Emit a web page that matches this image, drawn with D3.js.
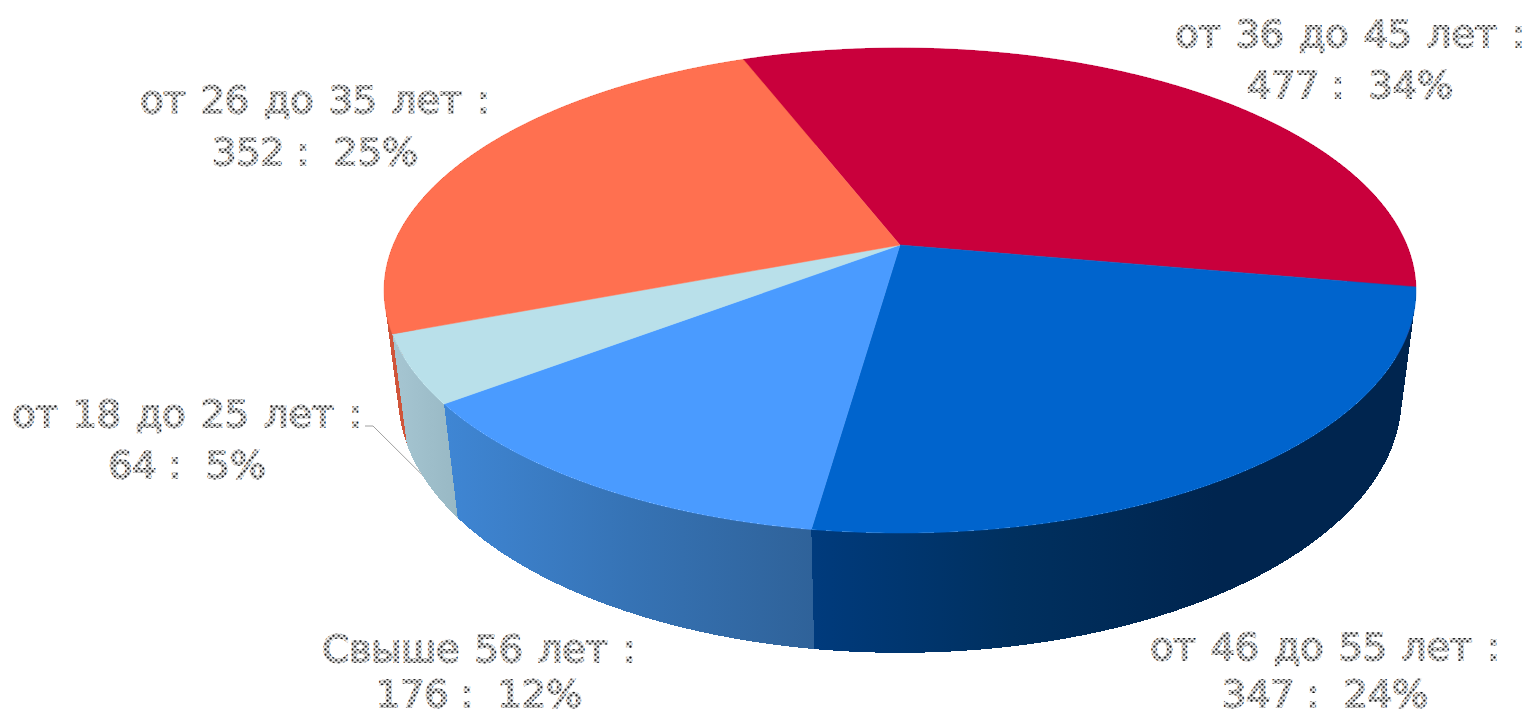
<!DOCTYPE html>
<html>
<head>
<meta charset="utf-8">
<script src="https://cdn.jsdelivr.net/npm/d3@7"></script>
<style>
html, body { margin: 0; padding: 0; background: #fff; overflow: hidden; }
text { font-family: "DejaVu Sans", sans-serif; font-size: 38px; text-anchor: middle; }
</style>
</head>
<body>
<svg id="chart" width="1530" height="717"></svg>
<script>
// values
var categories = ['от 36 до 45 лет', 'от 46 до 55 лет', 'Свыше 56 лет', 'от 18 до 25 лет', 'от 26 до 35 лет'];
var values = [477, 347, 176, 64, 352];
var percents = [34, 24, 12, 5, 25];

// colours of the top face
var topColors = ['#c9003c', '#0064cd', '#4a9bff', '#b9e0ea', '#ff7050'];
// wall shading, left to right
var wallColors = [
	['#a00030', '#a00030'],
	['#003b7d', '#00305f', '#00254f', '#00254f'],
	['#3f86d4', '#3673b5', '#2f6299'],
	['#a6c6d2', '#98b8c4'],
	['#d0553a', '#d0553a']
];

// label layout: centre x, first baseline, second baseline
var labelX = [1350, 1325, 479, 187, 315];
var labelY1 = [47, 660, 662, 427, 113];
var labelY2 = [98, 707, 707, 478, 165];

var svg = d3.select('#chart');
var defs = svg.append('defs');

// perspective projection of a flat cylinder
var apexX = 900, apexY = 245;
var rx = 506.8, ry = 234, persp = 0.1876;
var depth = 108.5, depthPersp = 0.0274;

function project(angle, z) {
	var u = Math.sin(angle), v = -Math.cos(angle);
	var w = 1 - persp * v + depthPersp * z;
	return [apexX + rx * u / w, apexY + (ry * v + depth * z) / w];
}

var startAngle = -21.3 * Math.PI / 180;
var pie = d3.pie().sort(null).startAngle(startAngle).endAngle(startAngle + 2 * Math.PI);
var slices = pie(values);

function arcPoints(s, z) {
	var n = Math.ceil((s.endAngle - s.startAngle) / 0.01);
	return d3.range(n + 1).map(function (i) {
		return project(s.startAngle + (s.endAngle - s.startAngle) * i / n, z);
	});
}

var line = d3.line();

// wall as a run of small quads, all wound the same way so the fill has no holes
function wallPath(s) {
	var top = arcPoints(s, 0), bottom = arcPoints(s, 1);
	return d3.range(top.length - 1).map(function (k) {
		var q = [top[k], top[k + 1], bottom[k + 1], bottom[k]];
		if (d3.polygonArea(q) < 0) q.reverse();
		return line(q) + 'Z';
	}).join('');
}

slices.forEach(function (s, i) {
	var top = arcPoints(s, 0), bottom = arcPoints(s, 1);
	var xs = top.concat(bottom).map(function (p) { return p[0]; });
	var ext = d3.extent(xs);
	var g = defs.append('linearGradient')
		.attr('id', 'wall' + i)
		.attr('gradientUnits', 'userSpaceOnUse')
		.attr('x1', ext[0]).attr('x2', ext[1]).attr('y1', 0).attr('y2', 0);
	wallColors[i].forEach(function (c, j) {
		g.append('stop').attr('offset', j / (wallColors[i].length - 1)).attr('stop-color', c);
	});
});

// walls first, back ones before front ones
var wallOrder = [0, 4, 1, 3, 2];
svg.append('g').selectAll('path')
	.data(wallOrder)
	.enter().append('path')
	.attr('d', function (i) { return wallPath(slices[i]); })
	.attr('fill', function (i) { return 'url(#wall' + i + ')'; })
	.attr('shape-rendering', 'crispEdges');

// top face
svg.append('g').selectAll('path')
	.data(slices)
	.enter().append('path')
	.attr('d', function (s) {
		return line([[apexX, apexY]].concat(arcPoints(s, 0))) + 'Z';
	})
	.attr('fill', function (s, i) { return topColors[i]; })
	.attr('stroke', function (s, i) { return topColors[i]; })
	.attr('stroke-width', 0.5);

// dotted lettering
var dots = defs.append('pattern')
	.attr('id', 'dots')
	.attr('patternUnits', 'userSpaceOnUse')
	.attr('width', 5.4).attr('height', 5.4);
dots.append('rect').attr('width', 5.4).attr('height', 5.4).attr('fill', '#ececec');
[[1.35, 1.35], [4.05, 4.05]].forEach(function (p) {
	dots.append('circle').attr('cx', p[0]).attr('cy', p[1]).attr('r', 1.1).attr('fill', '#000');
});

var labels = svg.append('g');
categories.forEach(function (c, i) {
	labels.append('text').attr('x', labelX[i]).attr('y', labelY1[i])
		.attr('fill', 'url(#dots)').attr('stroke', 'url(#dots)').attr('stroke-width', 2)
		.attr('word-spacing', 3)
		.attr('xml:space', 'preserve')
		.text(c + ' :');
	labels.append('text').attr('x', labelX[i]).attr('y', labelY2[i])
		.attr('fill', 'url(#dots)').attr('stroke', 'url(#dots)').attr('stroke-width', 2)
		.attr('xml:space', 'preserve')
		.text(values[i] + ' :  ' + percents[i] + '%');
});

// leader for the small slice
var small = slices[3];
var leaderEnd = project(small.startAngle + (small.endAngle - small.startAngle) * 0.6, 1);
svg.append('path')
	.attr('d', line([[labelX[3] + 178, labelY1[3] - 1], [labelX[3] + 186, labelY1[3] - 1], leaderEnd]))
	.attr('fill', 'none')
	.attr('stroke', '#a0a0a0')
	.attr('stroke-width', 1);
</script>
</body>
</html>
